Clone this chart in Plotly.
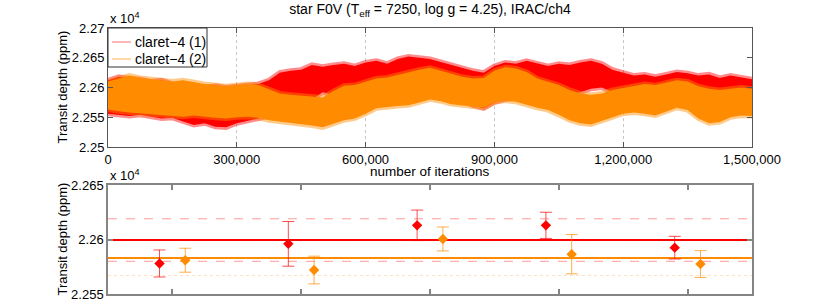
import plotly.graph_objects as go

# ---------------- data ----------------
# top panel: MCMC chain envelopes (ppm), every 25,000 iterations
iterations = [i * 25000 for i in range(61)]
red_hi = [22612, 22618, 22615, 22614, 22610, 22612, 22606, 22605, 22604, 22600,
          22603, 22600, 22602, 22603, 22606, 22612, 22625, 22628, 22630, 22638,
          22635, 22638, 22640, 22636, 22642, 22645, 22640, 22648, 22652, 22650,
          22648, 22643, 22638, 22632, 22628, 22625, 22636, 22642, 22640, 22645,
          22640, 22636, 22640, 22638, 22642, 22645, 22640, 22630, 22625, 22620,
          22622, 22618, 22622, 22626, 22624, 22620, 22622, 22616, 22620, 22616, 22614]
red_lo = [22556, 22555, 22552, 22554, 22550, 22548, 22549, 22543, 22537, 22540,
          22534, 22533, 22540, 22545, 22548, 22552, 22570, 22575, 22578, 22580,
          22592, 22588, 22585, 22585, 22590, 22592, 22590, 22595, 22600, 22598,
          22598, 22592, 22585, 22578, 22570, 22565, 22575, 22580, 22582, 22578,
          22575, 22578, 22585, 22590, 22592, 22598, 22600, 22592, 22585, 22580,
          22578, 22575, 22578, 22580, 22580, 22578, 22575, 22572, 22575, 22572, 22570]
orange_hi = [22610, 22614, 22620, 22616, 22614, 22612, 22610, 22612, 22608, 22606,
             22604, 22602, 22604, 22606, 22604, 22598, 22590, 22588, 22586, 22585,
             22583, 22594, 22603, 22604, 22610, 22615, 22617, 22622, 22625, 22630,
             22633, 22628, 22622, 22618, 22615, 22616, 22628, 22634, 22632, 22626,
             22615, 22610, 22604, 22596, 22590, 22588, 22590, 22596, 22600, 22604,
             22606, 22604, 22608, 22612, 22610, 22602, 22598, 22596, 22598, 22600, 22598]
orange_lo = [22563, 22560, 22558, 22556, 22554, 22553, 22552, 22551, 22553, 22550,
             22549, 22548, 22550, 22551, 22549, 22545, 22542, 22540, 22538, 22536,
             22533, 22540, 22545, 22548, 22556, 22565, 22567, 22569, 22570, 22575,
             22580, 22577, 22572, 22570, 22568, 22566, 22575, 22578, 22576, 22572,
             22566, 22562, 22554, 22545, 22540, 22538, 22542, 22550, 22556, 22558,
             22556, 22553, 22560, 22566, 22562, 22548, 22540, 22542, 22550, 22553, 22552]

# bottom panel: per-block estimates (ppm)
blocks = [0, 1, 2, 3, 4]
red_mean = [22578, 22596, 22613, 22613, 22592.5]
red_err = [12.4, 20.5, 14, 12, 10.4]
orange_mean = [22581, 22572, 22600.5, 22586.5, 22577.5]
orange_err = [11, 12.7, 11, 18, 12.3]
red_overall = 22599.5
red_band = [22580, 22619]
orange_overall = 22583
orange_band = [22567, 22599]

series_names = ["claret\u22124 (1)", "claret\u22124 (2)"]
top_xticks = [0, 300000, 600000, 900000, 1200000, 1500000]
top_yticks = [22500, 22550, 22600, 22650, 22700]
top_ylabels = ["2.25", "2.255", "2.26", "2.265", "2.27"]
bot_yticks = [22550, 22600, 22650]
bot_ylabels = ["2.255", "2.26", "2.265"]

# ---------------- styling ----------------
RED = "#ff0000"
ORANGE = "#ff8c00"
FONT = "Liberation Sans, Arial, sans-serif"
AX_TOP = "#555555"
AX_BOT = "#858585"
W, H = 830, 308
# plot area edges in pixels
PL, PR, PT, PB = 108, 752, 28, 294
ML, MT, MR, MB = PL, PT, W - PR, H - PB
PW, PH = W - ML - MR, H - MT - MB


def px_x(p):
    return (p - PL) / PW


def px_y(p):
    return (PB - p) / PH


fig = go.Figure()


def band(x, hi, lo, color, edge):
    fig.add_trace(go.Scatter(
        x=x + x[::-1], y=hi + lo[::-1], mode="lines", fill="toself",
        fillcolor=color, line=dict(color=edge, width=5),
        showlegend=False, hoverinfo="skip", xaxis="x", yaxis="y"))


band(iterations, red_hi, red_lo, RED, "rgba(255,0,0,0.45)")
band(iterations, orange_hi, orange_lo, ORANGE, "rgba(255,140,0,0.45)")

# bottom panel lines
xr = [0, 5]
for v in red_band:
    fig.add_trace(go.Scatter(x=xr, y=[v, v], mode="lines", showlegend=False,
                             line=dict(color="rgba(255,0,0,0.4)", width=1, dash="dash"),
                             xaxis="x2", yaxis="y2", hoverinfo="skip"))
for v in orange_band:
    fig.add_trace(go.Scatter(x=xr, y=[v, v], mode="lines", showlegend=False,
                             line=dict(color="rgba(255,140,0,0.25)", width=1, dash="dot"),
                             xaxis="x2", yaxis="y2", hoverinfo="skip"))
fig.add_trace(go.Scatter(x=xr, y=[orange_overall] * 2, mode="lines", showlegend=False,
                         line=dict(color=ORANGE, width=2), xaxis="x2", yaxis="y2"))
fig.add_trace(go.Scatter(x=xr, y=[red_overall] * 2, mode="lines", showlegend=False,
                         line=dict(color=RED, width=2), xaxis="x2", yaxis="y2"))

fig.add_trace(go.Scatter(
    x=[b + 0.4 for b in blocks], y=red_mean, mode="markers", showlegend=False,
    marker=dict(symbol="diamond", size=8, color=RED),
    error_y=dict(type="data", array=red_err, color="rgba(255,0,0,0.7)", thickness=1, width=6),
    xaxis="x2", yaxis="y2"))
fig.add_trace(go.Scatter(
    x=[b + 0.6 for b in blocks], y=orange_mean, mode="markers", showlegend=False,
    marker=dict(symbol="diamond", size=8, color=ORANGE),
    error_y=dict(type="data", array=orange_err, color="rgba(255,140,0,0.7)", thickness=1, width=6),
    xaxis="x2", yaxis="y2"))

axis_top = dict(showline=True, linecolor=AX_TOP, linewidth=1, mirror="ticks",
                ticks="inside", ticklen=5, tickcolor=AX_TOP, zeroline=False,
                automargin=False, tickfont=dict(size=13, color="black"))
axis_bot = dict(showline=True, linecolor=AX_BOT, linewidth=1.5, mirror="ticks",
                ticks="inside", ticklen=5, tickcolor=AX_BOT, tickwidth=1.5, zeroline=False,
                automargin=False, tickfont=dict(size=13, color="black"))

# manual legend box (MATLAB style)
shapes = [
    dict(type="rect", xref="paper", yref="paper", x0=px_x(108), x1=px_x(207),
         y0=px_y(67), y1=px_y(28),
         line=dict(color="#333333", width=1), fillcolor="white", layer="above"),
    dict(type="line", xref="paper", yref="paper", x0=px_x(112), x1=px_x(131),
         y0=px_y(42), y1=px_y(42), line=dict(color="#ff7070", width=1), layer="above"),
    dict(type="line", xref="paper", yref="paper", x0=px_x(112), x1=px_x(131),
         y0=px_y(59), y1=px_y(59), line=dict(color="#ffb050", width=1), layer="above"),
]

annotations = [
    dict(text=series_names[0], xref="paper", yref="paper", x=px_x(133), y=px_y(42),
         xanchor="left", yanchor="middle", showarrow=False, font=dict(size=14)),
    dict(text=series_names[1], xref="paper", yref="paper", x=px_x(133), y=px_y(59),
         xanchor="left", yanchor="middle", showarrow=False, font=dict(size=14)),
    dict(text="x 10<sup>4</sup>", xref="paper", yref="paper", x=0, y=1,
         xanchor="left", yanchor="bottom", showarrow=False, font=dict(size=13)),
    dict(text="x 10<sup>4</sup>", xref="paper", yref="paper", x=0, y=px_y(185),
         xanchor="left", yanchor="bottom", showarrow=False, font=dict(size=13)),
    dict(text="number of iterations", xref="paper", yref="paper", x=0.5, y=px_y(171),
         xanchor="center", yanchor="middle", showarrow=False, font=dict(size=13.5)),
    dict(text="Transit depth (ppm)", xref="paper", yref="paper", x=px_x(62), y=px_y(87.5),
         xanchor="center", yanchor="middle", textangle=-90, showarrow=False,
         font=dict(size=13)),
    dict(text="Transit depth (ppm)", xref="paper", yref="paper", x=px_x(62), y=px_y(239.5),
         xanchor="center", yanchor="middle", textangle=-90, showarrow=False,
         font=dict(size=13)),
]

fig.update_layout(
    width=W, height=H,
    margin=dict(l=ML, r=MR, t=MT, b=MB, autoexpand=False),
    paper_bgcolor="white", plot_bgcolor="white",
    font=dict(family=FONT, size=13, color="black"),
    title=dict(text="star F0V (T<sub>eff</sub> = 7250, log g = 4.25), IRAC/ch4",
               x=0.5, xref="paper", xanchor="center", y=1 - 9 / H,
               yanchor="middle", font=dict(size=14)),
    showlegend=False,
    xaxis=dict(domain=[0, 1], range=[0, 1500000], tickvals=top_xticks,
               tickformat=",d", showgrid=True, gridcolor="#c8c8c8", griddash="dot",
               anchor="y", **axis_top),
    yaxis=dict(domain=[px_y(147), 1], range=[22500, 22700], tickvals=top_yticks,
               ticktext=top_ylabels, showgrid=False, anchor="x", **axis_top),
    xaxis2=dict(domain=[0, 1], range=[0, 5], tickvals=[0.5, 1.5, 2.5, 3.5, 4.5],
                showticklabels=False, showgrid=False, anchor="y2", **axis_bot),
    yaxis2=dict(domain=[0, px_y(185)], range=[22550, 22650], tickvals=bot_yticks,
                ticktext=bot_ylabels, showgrid=False, anchor="x2", **axis_bot),
    shapes=shapes,
    annotations=annotations,
)

# remove the default page margin so the figure sits at the window's top-left corner
fig.write_html("out.html", config={"displayModeBar": False},
               post_script="document.body.style.margin='0';document.body.style.overflow='hidden';")
